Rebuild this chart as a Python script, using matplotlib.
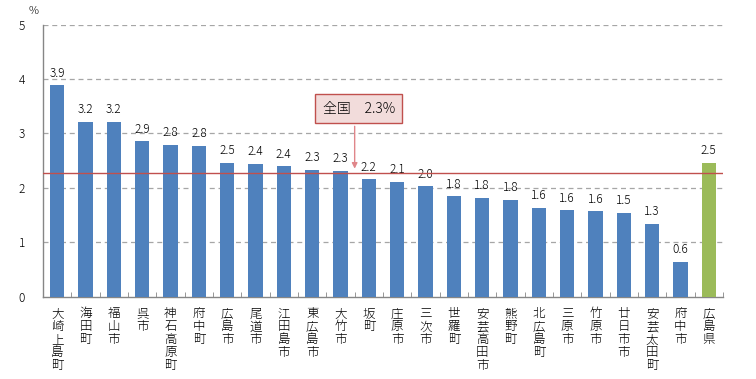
import matplotlib
matplotlib.use("Agg")
import matplotlib.pyplot as plt
import numpy as np

plt.rcParams['font.family'] = ['Noto Sans CJK JP', 'DejaVu Sans']

# 市町別の値（％）
names = ["大崎上島町", "海田町", "福山市", "呉市", "神石高原町", "府中町", "広島市",
         "尾道市", "江田島市", "東広島市", "大竹市", "坂町", "庄原市", "三次市",
         "世羅町", "安芸高田市", "熊野町", "北広島町", "三原市", "竹原市",
         "廿日市市", "安芸太田町", "府中市", "広島県"]
values = [3.88, 3.21, 3.21, 2.86, 2.79, 2.77, 2.46, 2.44, 2.40, 2.33, 2.31, 2.16,
          2.11, 2.03, 1.84, 1.82, 1.78, 1.63, 1.59, 1.57, 1.54, 1.34, 0.64, 2.46]
national = 2.27
national_label = "全国　2.3%"
yticks = [0, 1, 2, 3, 4, 5]

blue = "#4F81BD"
green = "#9BBB59"
red = "#C0504D"

fig = plt.figure(figsize=(7.56, 3.79), dpi=100)
ax = fig.add_axes([43/756, 1-296.6/379, 680/756, (296.6-24.5)/379])

x = np.arange(len(names))
colors = [blue] * (len(names) - 1) + [green]
ax.bar(x, values, width=0.5, color=colors, zorder=3)

for xi, v in zip(x, values):
    ax.text(xi, v + 0.1, f"{v:.1f}", ha="center", va="bottom", fontsize=8.5,
            fontweight="light")

ax.set_xlim(-0.5, len(names) - 0.5)
ax.set_ylim(0, 5)
ax.set_yticks(yticks)
ax.set_yticklabels([str(t) for t in yticks], fontsize=8.5, fontweight="light")
ax.tick_params(axis="y", length=0, pad=13)

for t in yticks[1:]:
    ax.axhline(t, color="#A6A6A6", lw=0.9, ls=(0, (4, 3)), zorder=1)

ax.axhline(national, color=red, lw=1.0, zorder=4)

# 区切りの目盛り
ax.set_xticks(np.arange(-0.5, len(names), 1.0), minor=True)
ax.set_xticks([])
ax.tick_params(axis="x", which="minor", direction="in", length=3.5, color="#868686")

for xi, n in zip(x, names):
    ax.text(xi, -0.2, "\n".join(n), ha="center", va="top", fontsize=9,
            linespacing=1.0, fontweight="light")

for s in ["top", "right"]:
    ax.spines[s].set_visible(False)
for s in ["left", "bottom"]:
    ax.spines[s].set_color("#868686")
    ax.spines[s].set_linewidth(1.0)

ax.text(-0.82, 5.24, "%", fontsize=8, ha="center", va="center", fontweight="light")

ax.annotate("", xy=(10.5, national + 0.03), xytext=(10.5, 3.18),
            arrowprops=dict(arrowstyle="-|>", color="#E0868A", lw=1.0,
                            mutation_scale=8), zorder=5)
ax.text(10.64, 3.45, national_label, ha="center", va="center", fontsize=10,
        fontweight="light",
        bbox=dict(boxstyle="square,pad=0.55", fc="#F2DCDB", ec=red, lw=1.0),
        zorder=6)

fig.savefig("out.png", dpi=100)
